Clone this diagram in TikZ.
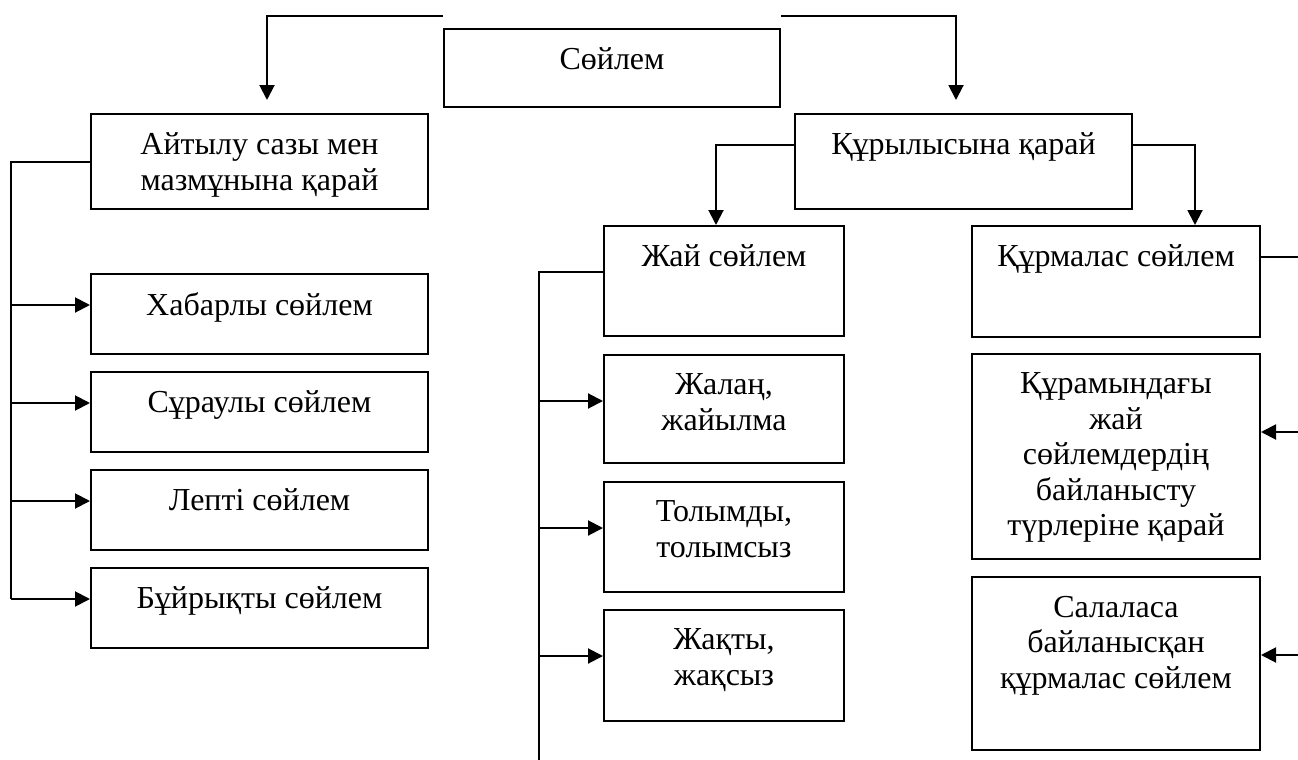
\documentclass[tikz,border=0pt]{standalone}
\usepackage{fontspec}
\setmainfont{Liberation Serif}
\usetikzlibrary{positioning,arrows.meta}

\tikzset{
  box/.style={draw, line width=2pt, inner sep=0pt, anchor=north west},
  txt/.style={anchor=north, align=center, inner sep=0pt, yshift=-19pt,
    font=\fontsize{32}{35.5}\selectfont},
}

\begin{document}
\begin{tikzpicture}[x=1pt, y=-1pt, line width=2pt, >={Triangle[length=15pt,width=15pt]}]
  \useasboundingbox (0,0) rectangle (1298,760);

  \node[box, minimum width=336pt, minimum height=78pt, label={[txt]north:Сөйлем}] (soylem) at (443,28) {};

  \node[box, minimum width=337pt, minimum height=95pt, label={[txt]north:{Айтылу сазы мен\\мазмұнына қарай}}] (aitylu) at (90,113) {};
  \node[box, minimum width=337pt, minimum height=80pt, label={[txt]north:Хабарлы сөйлем}] (habar) at (90,273) {};
  \node[box, minimum width=337pt, minimum height=80pt, below=16pt of habar, label={[txt]north:Сұраулы сөйлем}] (suraul) {};
  \node[box, minimum width=337pt, minimum height=80pt, below=16pt of suraul, label={[txt]north:Лепті сөйлем}] (lepti) {};
  \node[box, minimum width=337pt, minimum height=80pt, below=16pt of lepti, label={[txt]north:Бұйрықты сөйлем}] (buyryq) {};

  \node[box, minimum width=337pt, minimum height=95pt, label={[txt]north:Құрылысына қарай}] (qurylys) at (794,113) {};

  \node[box, minimum width=240pt, minimum height=110pt, label={[txt]north:Жай сөйлем}] (zhai) at (603,225) {};
  \node[box, minimum width=240pt, minimum height=108pt, below=17pt of zhai, label={[txt]north:{Жалаң,\\жайылма}}] (zhalan) {};
  \node[box, minimum width=240pt, minimum height=110pt, below=17pt of zhalan, label={[txt]north:{Толымды,\\толымсыз}}] (tolymdy) {};
  \node[box, minimum width=240pt, minimum height=111pt, below=16pt of tolymdy, label={[txt]north:{Жақты,\\жақсыз}}] (zhaqty) {};

  \node[box, minimum width=288pt, minimum height=111pt, label={[txt]north:Құрмалас сөйлем}] (qurmalas) at (971,225) {};
  \node[box, minimum width=288pt, minimum height=205pt, below=15pt of qurmalas, label={[txt]north:{Құрамындағы\\жай\\сөйлемдердің\\байланысту\\түрлеріне қарай}}] (quramyn) {};
  \node[box, minimum width=288pt, minimum height=173pt, below=16pt of quramyn, label={[txt]north:{Салаласа\\байланысқан\\құрмалас сөйлем}}] (salalas) {};

  \coordinate (lend) at ([xshift=-79pt,yshift=-32pt]buyryq.north west);
  \coordinate (zend) at (539,760);

  \draw[->] ([yshift=12pt]soylem.north west) -| ([xshift=7.5pt,yshift=13pt]aitylu.north);
  \draw[->] ([yshift=12pt]soylem.north east) -| ([xshift=-7.5pt,yshift=13pt]qurylys.north);

  \draw (aitylu.west) -| (lend);
  \foreach \n in {habar,suraul,lepti,buyryq}
    \draw[->] ([xshift=-79pt,yshift=-32pt]\n.north west) -- ([yshift=-32pt]\n.north west);

  \draw[->] ([yshift=-32pt]qurylys.north west) -| ([xshift=-8pt]zhai.north);
  \draw[->] ([yshift=-32pt]qurylys.north east) -| ([xshift=79pt]qurmalas.north);

  \draw ([yshift=-47pt]zhai.north west) -| (zend);
  \foreach \n in {zhalan,tolymdy,zhaqty}
    \draw[->] ([xshift=-64pt,yshift=-47pt]\n.north west) -- ([yshift=-47pt]\n.north west);

  \draw ([yshift=-32pt]qurmalas.north east) -- ++(39,0);
  \draw[<-] ([yshift=-79pt]quramyn.north east) -- ++(39,0);
  \draw[<-] ([yshift=-79pt]salalas.north east) -- ++(39,0);
\end{tikzpicture}
\end{document}
